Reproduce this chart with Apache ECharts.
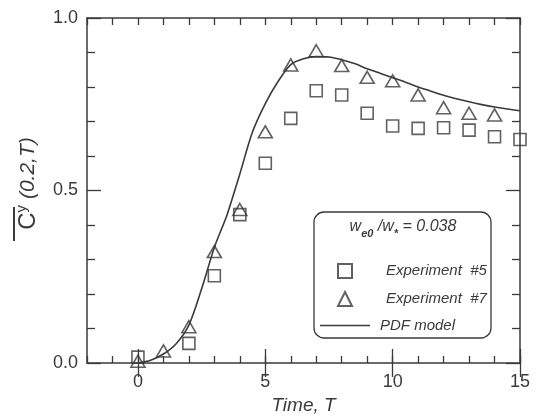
<!DOCTYPE html>
<html>
<head>
<meta charset="utf-8">
<script src="https://cdn.jsdelivr.net/npm/echarts@6/dist/echarts.min.js"></script>
<style>
html,body{margin:0;padding:0;background:#fff;}
#chart{width:541px;height:420px;}
</style>
</head>
<body>
<div id="chart"></div>
<script>
// ---- data ----
const timeExp5 = [0, 2, 3, 4, 5, 6, 7, 8, 9, 10, 11, 12, 13, 14, 15];
const exp5 = [0.017, 0.057, 0.253, 0.43, 0.579, 0.709, 0.789, 0.777, 0.724, 0.687, 0.680, 0.682, 0.675, 0.656, 0.648];
const timeExp7 = [0, 1, 2, 3, 4, 5, 6, 7, 8, 9, 10, 11, 12, 13, 14];
const exp7 = [0.005, 0.035, 0.105, 0.323, 0.445, 0.67, 0.864, 0.905, 0.862, 0.828, 0.818, 0.777, 0.740, 0.724, 0.719];
const modelTime = [0, 0.5, 1, 1.5, 2, 2.5, 3, 3.5, 4, 4.5, 5, 5.5, 6, 6.5, 7, 7.5, 8, 8.5, 9, 9.5, 10, 10.5, 11, 11.5, 12, 12.5, 13, 13.5, 14, 14.5, 15];
const model = [0, 0.008, 0.026, 0.056, 0.11, 0.215, 0.335, 0.43, 0.548, 0.67, 0.752, 0.816, 0.865, 0.882, 0.888, 0.887, 0.879, 0.868, 0.853, 0.84, 0.827, 0.814, 0.8, 0.788, 0.776, 0.766, 0.757, 0.749, 0.742, 0.736, 0.731];
const xMajorTicks = [0, 5, 10, 15];
const seriesNames = ['Experiment  #5', 'Experiment  #7', 'PDF model'];
const legendTitle = 'w_e0 /w_* = 0.038';

const ink = '#3a3a3a';
const font = '"Liberation Sans", Arial, Helvetica, sans-serif';

function zip(xs, ys) { return xs.map((x, i) => [x, ys[i]]); }

const xBase = {
  type: 'value', min: -2, max: 15, interval: 1,
  splitLine: { show: false },
  axisLine: { show: true, onZero: false, lineStyle: { color: ink, width: 1.5 } },
  axisLabel: { show: false }
};
const yBase = {
  type: 'value', min: 0, max: 1, interval: 0.5,
  splitLine: { show: false },
  axisLine: { show: true, onZero: false, lineStyle: { color: ink, width: 1.5 } },
  axisTick: { show: true, inside: true, length: 14, lineStyle: { color: ink, width: 1.3 } },
  minorTick: { show: true, splitNumber: 5, length: 8, lineStyle: { color: ink, width: 1.3 } },
  axisLabel: { show: false }
};

const chart = echarts.init(document.getElementById('chart'), null, { renderer: 'canvas' });

const parts = legendTitle.split(/_(\w+|\*)/);
const legendText = { fontSize: 15, fontStyle: 'italic', color: ink, fontFamily: font };
chart.setOption({
  animation: false,
  backgroundColor: '#fff',
  textStyle: { fontFamily: font, color: ink },
  grid: { left: 87, right: 21, top: 18, bottom: 57, containLabel: false },
  xAxis: [
    Object.assign({}, xBase, {
      position: 'bottom',
      axisTick: { show: true, inside: true, length: 7, lineStyle: { color: ink, width: 1.3 } },
      axisLabel: { show: true, customValues: xMajorTicks, fontSize: 18, color: ink, margin: 10, fontFamily: font },
      name: 'Time, T', nameLocation: 'middle', nameGap: 33,
      nameTextStyle: { fontSize: 19, fontStyle: 'italic', color: ink, fontFamily: font }
    }),
    Object.assign({}, xBase, {
      position: 'bottom', axisLine: { show: false },
      axisTick: { show: true, inside: true, length: 14, customValues: xMajorTicks, lineStyle: { color: ink, width: 1.3 } }
    }),
    Object.assign({}, xBase, {
      position: 'top',
      axisTick: { show: true, inside: true, length: 7, lineStyle: { color: ink, width: 1.3 } }
    }),
    Object.assign({}, xBase, {
      position: 'top', axisLine: { show: false },
      axisTick: { show: true, inside: true, length: 14, customValues: xMajorTicks, lineStyle: { color: ink, width: 1.3 } }
    })
  ],
  yAxis: [
    Object.assign({}, yBase, {
      position: 'left',
      axisLabel: { show: true, fontSize: 18, color: ink, margin: 9, fontFamily: font,
        formatter: v => v.toFixed(1) },
      name: '{c|C}{s|y}{t| (0.2,T)}', nameLocation: 'middle', nameGap: 45, nameRotate: 90,
      nameTextStyle: {
        fontFamily: font, color: ink, padding: [0, 0, 0, 14],
        rich: {
          c: { fontSize: 24, fontFamily: font, color: ink, lineHeight: 28, verticalAlign: 'middle' },
          s: { fontSize: 15, fontFamily: font, color: ink, lineHeight: 28, verticalAlign: 'top' },
          t: { fontSize: 21, fontStyle: 'italic', fontFamily: font, color: ink, lineHeight: 28, verticalAlign: 'middle' }
        }
      }
    }),
    Object.assign({}, yBase, { position: 'right' })
  ],
  legend: [
    { data: [seriesNames[0]], left: 337, top: 263, padding: 0, orient: 'vertical', itemWidth: 14, itemHeight: 14,
      textStyle: Object.assign({ padding: [0, 0, 0, 29] }, legendText) },
    { data: [seriesNames[1]], left: 337, top: 291, padding: 0, orient: 'vertical', itemWidth: 14, itemHeight: 14,
      textStyle: Object.assign({ padding: [0, 0, 0, 29] }, legendText) },
    { data: [{ name: seriesNames[2], icon: 'rect' }], left: 320, top: 318, padding: 0, orient: 'vertical',
      itemWidth: 50, itemHeight: 1.6, itemStyle: { color: ink, borderWidth: 0 },
      textStyle: Object.assign({ padding: [0, 0, 0, 5] }, legendText) }
  ],
  graphic: [
    { type: 'rect', z: 1, shape: { x: 314, y: 212, width: 177, height: 126, r: 10 },
      style: { fill: '#fff', stroke: ink, lineWidth: 1.3 } },
    { type: 'text', z: 5, x: 403, y: 227,
      style: {
        text: '{a|' + parts[0] + '}{b|' + parts[1] + '}{a|' + parts[2] + '}{b|' + parts[3] + '}{a|' + parts[4] + '}',
        align: 'center', verticalAlign: 'middle',
        rich: {
          a: { fontSize: 16, fontStyle: 'italic', fontFamily: font, fill: ink, lineHeight: 24, verticalAlign: 'middle' },
          b: { fontSize: 11, fontStyle: 'italic', fontWeight: 'bold', fontFamily: font, fill: ink, lineHeight: 24, verticalAlign: 'bottom' }
        }
      } },
    { type: 'line', z: 5, shape: { x1: 14, y1: 207, x2: 14, y2: 241 }, style: { stroke: ink, lineWidth: 2 } }
  ],
  series: [
    { name: seriesNames[2], type: 'line', data: zip(modelTime, model), smooth: 0.3, symbol: 'none',
      lineStyle: { color: ink, width: 1.6 }, itemStyle: { color: ink }, z: 2 },
    { name: seriesNames[0], type: 'scatter', data: zip(timeExp5, exp5), symbol: 'rect', symbolSize: 12,
      itemStyle: { color: 'rgba(255,255,255,0)', borderColor: ink, borderWidth: 1.6 }, z: 3 },
    { name: seriesNames[1], type: 'scatter', data: zip(timeExp7, exp7), symbol: 'triangle', symbolSize: [14, 12],
      itemStyle: { color: 'rgba(255,255,255,0)', borderColor: ink, borderWidth: 1.6 }, z: 3 }
  ]
});
</script>
</body>
</html>
